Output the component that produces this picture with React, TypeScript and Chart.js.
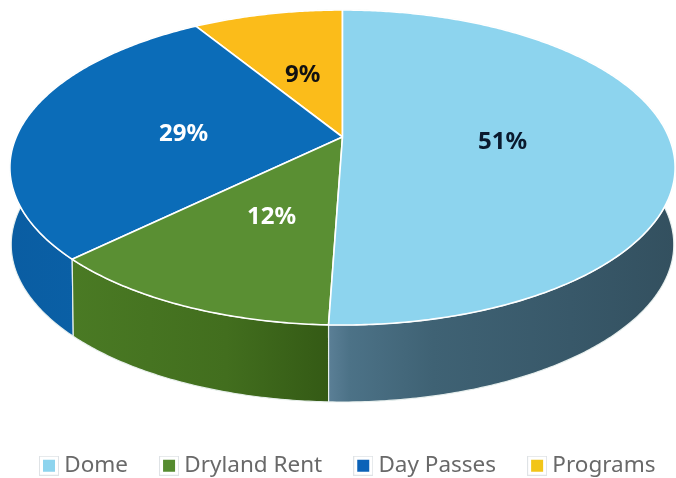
import React, { useEffect, useRef } from "react";
import { Chart, registerables } from "chart.js";

Chart.register(...registerables);

const categories = ["Dome", "Dryland Rent", "Day Passes", "Programs"];
const shares = [50.7, 12.2, 28.6, 8.8];

const faceColors = ["#8dd4ee", "#5a8f33", "#0b6cb8", "#fbbc1a"];
const labelColors = ["#0a1a2e", "#ffffff", "#ffffff", "#111111"];
const legendColors = ["#8dd4ee", "#558b2f", "#0b62b8", "#f2c518"];
const wallStops: [number, string][][] = [
  [[0, "#5b7f96"], [0.06, "#4c7287"], [0.3, "#3f6274"], [0.7, "#385869"], [1, "#33505f"]],
  [[0, "#4a7a24"], [0.6, "#426e1e"], [1, "#345a15"]],
  [[0, "#0a5da2"], [1, "#0b64ac"]],
  [[0, "#c9951a"], [1, "#c9951a"]],
];

const CX = 342.5;
const CY = 137;
const RX = 326.3;
const RY = 151.6;
const PERSPECTIVE = 0.1937;
const DEPTH = 77;
const BOTTOM_SCALE = 0.996;

function project(angle: number, radius = 1, shift = 0, sx = 1) {
  const u = Math.cos(angle) * radius;
  const v = Math.sin(angle) * radius;
  const w = 1 - PERSPECTIVE * v;
  return { x: CX + (RX * sx * u) / w, y: CY + (RY * v) / w + shift };
}

function tracePoints(ctx: CanvasRenderingContext2D, a0: number, a1: number, shift: number, sx: number, first: boolean) {
  const n = Math.max(2, Math.ceil(Math.abs(a1 - a0) / 0.01));
  for (let i = 0; i <= n; i++) {
    const p = project(a0 + ((a1 - a0) * i) / n, 1, shift, sx);
    if (i === 0 && first) ctx.moveTo(p.x, p.y);
    else ctx.lineTo(p.x, p.y);
  }
}

const pie3d = {
  id: "pie3d",
  beforeDatasetsDraw(chart: any) {
    const ctx: CanvasRenderingContext2D = chart.ctx;
    const arcs = chart.getDatasetMeta(0).data;
    const order = [3, 2, 1, 0];
    ctx.save();
    ctx.lineJoin = "round";
    for (const i of order) {
      const { startAngle: a0, endAngle: a1 } = arcs[i];
      let minX = Infinity;
      let maxX = -Infinity;
      for (let k = 0; k <= 100; k++) {
        const a = a0 + ((a1 - a0) * k) / 100;
        const p = project(a);
        minX = Math.min(minX, p.x);
        maxX = Math.max(maxX, p.x);
      }
      const grad = ctx.createLinearGradient(minX, 0, maxX, 0);
      wallStops[i].forEach(([o, c]) => grad.addColorStop(o, c));
      ctx.fillStyle = grad;
      ctx.beginPath();
      tracePoints(ctx, a0, a1, 0, 1, true);
      tracePoints(ctx, a1, a0, DEPTH, BOTTOM_SCALE, false);
      ctx.closePath();
      ctx.fill();
      ctx.strokeStyle = "rgba(235,242,240,0.95)";
      ctx.lineWidth = 1.2;
      ctx.stroke();
    }
    for (const i of order) {
      const { startAngle: a0, endAngle: a1 } = arcs[i];
      ctx.beginPath();
      ctx.moveTo(project(0, 0).x, project(0, 0).y);
      tracePoints(ctx, a0, a1, 0, 1, false);
      ctx.closePath();
      ctx.fillStyle = arcs[i].options.backgroundColor;
      ctx.fill();
      ctx.strokeStyle = "#ffffff";
      ctx.lineWidth = 1.6;
      ctx.stroke();
    }
    ctx.textAlign = "center";
    ctx.textBaseline = "middle";
    ctx.font = 'bold 24px "Noto Sans"';
    arcs.forEach((arc: any, i: number) => {
      const p = project((arc.startAngle + arc.endAngle) / 2, 0.49);
      ctx.fillStyle = labelColors[i];
      ctx.fillText(`${Math.round(shares[i])}%`, p.x - (i === 2 ? 2 : 0), p.y + 4 + (i === 2 || i === 1 ? 2 : 0));
    });
    ctx.restore();
    return false;
  },
};

function legendMarker(color: string) {
  const c = document.createElement("canvas");
  c.width = 20;
  c.height = 20;
  const g = c.getContext("2d")!;
  g.fillStyle = "#ffffff";
  g.fillRect(0, 0, 20, 20);
  g.strokeStyle = "#dfe3e6";
  g.lineWidth = 1;
  g.strokeRect(0.5, 0.5, 19, 19);
  g.fillStyle = color;
  g.fillRect(4, 4, 12, 12);
  return c;
}

export default function App() {
  const ref = useRef<HTMLCanvasElement>(null);
  useEffect(() => {
    const markers = legendColors.map(legendMarker);
    const base = (Chart as any).overrides.pie.plugins.legend.labels.generateLabels;
    const chart = new Chart(ref.current!, {
      type: "pie",
      data: {
        labels: categories,
        datasets: [{ data: shares, backgroundColor: faceColors, borderColor: "#ffffff" }],
      },
      options: {
        responsive: false,
        animation: false,
        layout: { padding: { left: 8 } },
        plugins: {
          tooltip: { enabled: false },
          legend: {
            position: "bottom",
            align: "start",
            labels: {
              usePointStyle: true,
              boxWidth: 8,
              boxHeight: 8,
              padding: 37,
              color: "#696969",
              font: { family: '"Noto Sans"', size: 22.5 },
              generateLabels: (c: any) =>
                base(c).map((item: any, i: number) => ({ ...item, pointStyle: markers[i] })),
            },
          },
        },
      },
      plugins: [pie3d],
    } as any);
    return () => chart.destroy();
  }, []);
  return (
    <div style={{ position: "absolute", left: 0, top: 0, width: 676, height: 478, overflow: "hidden", background: "#fff" }}>
      <canvas ref={ref} width={780} height={487} style={{ display: "block" }} />
    </div>
  );
}
